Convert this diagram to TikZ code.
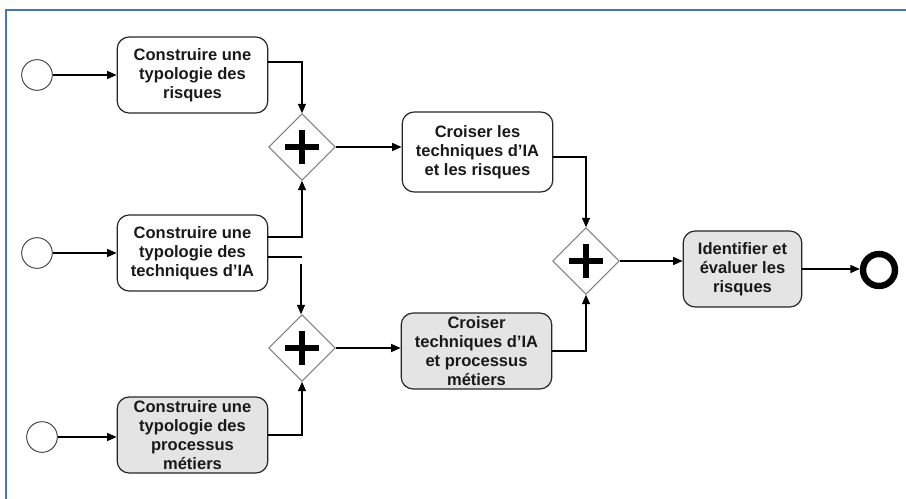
\documentclass[tikz,border=0pt]{standalone}
\usepackage{fontspec}
\setmainfont{Liberation Sans}
\usetikzlibrary{shapes.geometric,arrows.meta,calc}
\definecolor{frameblue}{HTML}{4472C4}
\definecolor{taskgray}{HTML}{E4E4E4}
\definecolor{gateline}{HTML}{808080}
\begin{document}
\begin{tikzpicture}[x=0.75pt,y=-0.75pt,
  task/.style={draw=black!85, line width=0.9pt, rounded corners=9pt, minimum width=113pt, minimum height=57pt, inner sep=0pt, align=center, font=\fontsize{12.4}{14.2}\selectfont\bfseries, text=black!90},
  taskg/.style={task, fill=taskgray},
  startev/.style={circle, draw=black!75, line width=0.7pt, minimum size=23pt, inner sep=0pt},
  endev/.style={circle, draw=black, line width=4.8pt, minimum size=24pt, inner sep=0pt},
  gate/.style={diamond, draw=gateline, line width=0.7pt, minimum width=50pt, minimum height=50pt, inner sep=0pt},
  plus/.style={draw=black, line width=3.8pt},
  flow/.style={draw=black, line width=0.9pt, -{Triangle[length=7pt,width=6pt]}},
  seg/.style={draw=black, line width=0.9pt}]
\useasboundingbox (0,0) rectangle (906,499);
\draw[frameblue, line width=1.1pt] (6,499) -- (6,10) -- (906,10);

% events
\node[startev] (s1) at (37,75) {};
\node[startev] (s2) at (37,253) {};
\node[startev] (s3) at (42,437) {};
\node[endev] (e) at (879,270) {};

% tasks
\node[task] (b1) at (192.5,75) {Construire une\\typologie des\\risques};
\node[task] (b2) at (192.5,253) {Construire une\\typologie des\\techniques d’IA};
\node[taskg] (b3) at (192.5,435) {Construire une\\typologie des\\processus\\métiers};
\node[task, minimum height=60pt] (b4) at (477.5,152) {Croiser les\\techniques d’IA\\et les risques};
\node[taskg] (b5) at (476.5,351) {Croiser\\techniques d’IA\\et processus\\métiers};
\node[taskg, minimum width=89pt] (b6) at (742.5,269) {Identifier et\\évaluer les\\risques};

% gateways
\node[gate] (d1) at (302,147) {};
\node[gate] (d2) at (302,348) {};
\node[gate] (d3) at (586,261) {};
\foreach \g in {d1,d2,d3}{
  \draw[plus] ($(\g.center)+(-17,0)$) -- ($(\g.center)+(17,0)$);
  \draw[plus] ($(\g.center)+(0,-17)$) -- ($(\g.center)+(0,17)$);
}

% flows
\draw[flow] (s1.east) -- (b1.west);
\draw[flow] (s2.east) -- (b2.west);
\draw[flow] (s3.east) -- (s3.east -| b3.west);

\path (b1.east) ++(0,-13) coordinate (b1o);
\draw[flow] (b1o) -| (d1.north);

\path (b2.east) ++(0,-16) coordinate (b2u);
\draw[flow] (b2u) -| (d1.south);

\path (b2.east) ++(0,4) coordinate (b2l);
\draw[seg] (b2l) -- (b2l -| d2.north);
\coordinate (b2g) at ($(b2l -| d2.north)+(-1,7)$);
\draw[flow] (b2g) -- (b2g |- d2.north);

\draw[flow] (b3.east) -| (d2.south);

\draw[flow] (d1.east) -- (d1.east -| b4.west);
\path (b4.east) ++(0,5) coordinate (b4o);
\draw[flow] (b4o) -| (d3.north);

\draw[flow] (d2.east) -- (d2.east -| b5.west);
\draw[flow] (b5.east) -| (d3.south);

\draw[flow] (d3.east) -- (d3.east -| b6.west);
\draw[flow] (b6.east) -- (b6.east -| e.west);
\end{tikzpicture}
\end{document}
